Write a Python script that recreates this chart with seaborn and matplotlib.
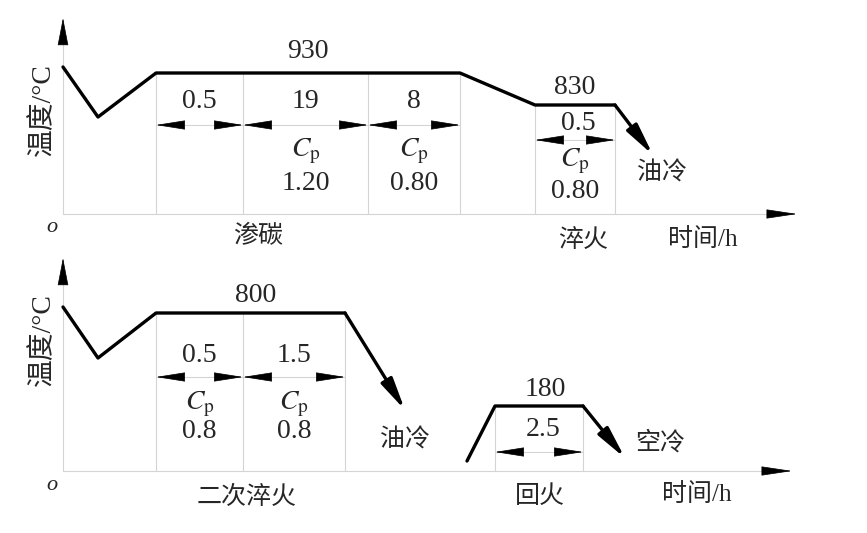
import matplotlib

matplotlib.use("Agg")
import matplotlib.pyplot as plt
import pandas as pd
import seaborn as sns

# Schematic coordinates: x = distance from the temperature axis, y = height above the time axis
top_profile_x = [0, 35, 93, 397, 472, 552]
top_profile_y = [147, 97, 141, 141, 109, 109]
top_cool_end = (590, 59)
top_hold_edges = [93, 180, 305, 397]
top_hold_times = ["0.5", "19", "8"]
top_hold_cp = [None, "1.20", "0.80"]
top_quench_edges = [472, 552]
top_quench_time = "0.5"
top_quench_cp = "0.80"

bot_profile_x = [0, 35, 93, 282]
bot_profile_y = [164, 113, 158, 158]
bot_cool_end = (342, 61)
bot_hold_edges = [93, 180, 282]
bot_hold_times = ["0.5", "1.5"]
bot_hold_cp = ["0.8", "0.8"]
temper_x = [404, 432, 520]
temper_y = [10, 65, 65]
temper_cool_end = (562, 13)
temper_time = "2.5"

GRAY = "#d4d4d4"
LW = 2.4


def head(ax, tip, tail, length=1.9, width=0.3, scale=10):
    ax.annotate(
        "",
        xy=tip,
        xytext=tail,
        arrowprops=dict(
            arrowstyle=f"-|>,head_length={length},head_width={width}",
            mutation_scale=scale,
            color="black",
            lw=0.5,
            shrinkA=0,
            shrinkB=0,
        ),
    )


def dimension(ax, x0, x1, y):
    ax.plot([x0, x1], [y, y], color=GRAY, lw=0.8)
    head(ax, (x0, y), (x0 + 26, y))
    head(ax, (x1, y), (x1 - 26, y))


def axes_frame(ax, y_tip, x_tip, label_y):
    ax.plot([0, 0], [0, y_tip - 20], color=GRAY, lw=0.8)
    ax.plot([0, x_tip - 20], [0, 0], color=GRAY, lw=0.8)
    head(ax, (0, y_tip), (0, y_tip - 25), length=1.8, width=0.35)
    head(ax, (x_tip, 0), (x_tip - 28, 0), length=2.0, width=0.3)
    ax.text(-11, -14, "o", fontsize=16, style="italic", ha="center", va="center")
    ax.text(-20, label_y, "温度/°C", fontsize=20, rotation=90, ha="center", va="center")


def cool(ax, start, end):
    ax.annotate(
        "",
        xy=end,
        xytext=start,
        arrowprops=dict(
            arrowstyle="-|>,head_length=1.9,head_width=0.38",
            mutation_scale=10,
            color="black",
            lw=LW,
            shrinkA=0,
            shrinkB=0,
        ),
    )


sns.set_theme(style="white")
plt.rcParams["font.family"] = ["Liberation Serif", "Noto Sans CJK SC"]
plt.rcParams["mathtext.fontset"] = "stix"

fig = plt.figure(figsize=(8.67, 5.33), dpi=100)

# ---------------- top panel: carburizing + quench ----------------
ax = fig.add_axes([0, 0, 1, 1])
ax.set_xlim(-63, 804)
ax.set_ylim(214 - 533, 214)
ax.axis("off")
ax.patch.set_alpha(0)

axes_frame(ax, 196, 734, 104)

for x in top_hold_edges:
    ax.plot([x, x], [0, top_profile_y[2]], color=GRAY, lw=0.8)
for x in top_quench_edges:
    ax.plot([x, x], [0, top_profile_y[4]], color=GRAY, lw=0.8)

sns.lineplot(
    data=pd.DataFrame({"t": top_profile_x, "T": top_profile_y}),
    x="t", y="T", sort=False, estimator=None, color="black", lw=LW, ax=ax,
)
cool(ax, (top_profile_x[-1], top_profile_y[-1]), top_cool_end)

for i, label in enumerate(top_hold_times):
    x0, x1 = top_hold_edges[i], top_hold_edges[i + 1]
    dimension(ax, x0, x1, 89)
    xc = (x0 + x1) / 2
    ax.text(xc, 113, label, fontsize=20, ha="center", va="center")
    if top_hold_cp[i]:
        ax.text(xc, 63, r"$C_{\rm p}$", fontsize=20, ha="center", va="center")
        ax.text(xc, 31, top_hold_cp[i], fontsize=20, ha="center", va="center")

dimension(ax, top_quench_edges[0], top_quench_edges[1], 74)
qc = sum(top_quench_edges) / 2
ax.text(qc + 3, 91, top_quench_time, fontsize=20, ha="center", va="center")
ax.text(qc, 53, r"$C_{\rm p}$", fontsize=20, ha="center", va="center")
ax.text(qc, 22, top_quench_cp, fontsize=20, ha="center", va="center")

ax.text(245, 162, "930", fontsize=20, ha="center", va="center")
ax.text(512, 127, "830", fontsize=20, ha="center", va="center")
ax.text(599, 41, "油冷", fontsize=18, ha="center", va="center")
ax.text(195, -23, "渗碳", fontsize=18, ha="center", va="center")
ax.text(520, -26, "淬火", fontsize=18, ha="center", va="center")
ax.text(640, -26, "时间/h", fontsize=18, ha="center", va="center")

# ---------------- bottom panel: second quench + temper ----------------
bx = fig.add_axes([0, 0, 1, 1])
bx.set_xlim(-63, 804)
bx.set_ylim(471 - 533, 471)
bx.axis("off")
bx.patch.set_alpha(0)

axes_frame(bx, 213, 729, 131)

for x in bot_hold_edges:
    bx.plot([x, x], [0, bot_profile_y[-1]], color=GRAY, lw=0.8)
for x in temper_x[1:]:
    bx.plot([x, x], [0, temper_y[-1]], color=GRAY, lw=0.8)

sns.lineplot(
    data=pd.DataFrame({"t": bot_profile_x, "T": bot_profile_y}),
    x="t", y="T", sort=False, estimator=None, color="black", lw=LW, ax=bx,
)
cool(bx, (bot_profile_x[-1], bot_profile_y[-1]), bot_cool_end)
sns.lineplot(
    data=pd.DataFrame({"t": temper_x, "T": temper_y}),
    x="t", y="T", sort=False, estimator=None, color="black", lw=LW, ax=bx,
)
cool(bx, (temper_x[-1], temper_y[-1]), temper_cool_end)

for i, label in enumerate(bot_hold_times):
    x0, x1 = bot_hold_edges[i], bot_hold_edges[i + 1]
    dimension(bx, x0, x1, 94)
    xc = (x0 + x1) / 2
    bx.text(xc, 116, label, fontsize=20, ha="center", va="center")
    bx.text(xc, 67, r"$C_{\rm p}$", fontsize=20, ha="center", va="center")
    bx.text(xc, 39, bot_hold_cp[i], fontsize=20, ha="center", va="center")

dimension(bx, temper_x[1], temper_x[2], 19)
bx.text(480, 41, temper_time, fontsize=20, ha="center", va="center")

bx.text(193, 175, "800", fontsize=20, ha="center", va="center")
bx.text(482, 81, "180", fontsize=20, ha="center", va="center")
bx.text(342, 31, "油冷", fontsize=18, ha="center", va="center")
bx.text(597, 28, "空冷", fontsize=18, ha="center", va="center")
bx.text(184, -26, "二次淬火", fontsize=18, ha="center", va="center")
bx.text(477, -26, "回火", fontsize=18, ha="center", va="center")
bx.text(634, -24, "时间/h", fontsize=18, ha="center", va="center")

fig.savefig("out.png", dpi=100, facecolor="white")
